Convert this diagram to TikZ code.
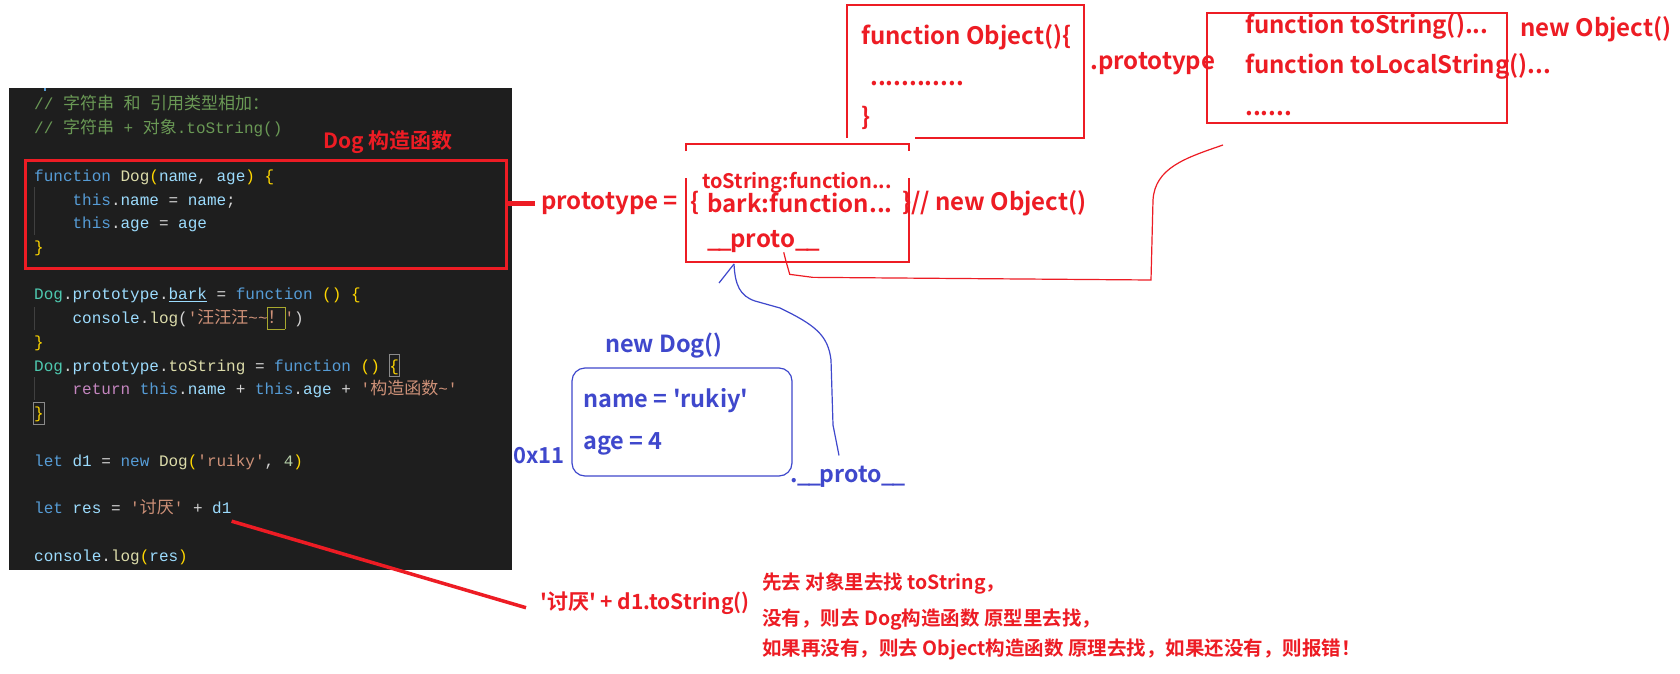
\documentclass[tikz,border=0pt]{standalone}
\usepackage{fontspec}
\usepackage{xcolor}
\usetikzlibrary{positioning,calc}
\newfontfamily\zhfont{Noto Sans CJK SC}[BoldFont={Noto Sans CJK SC Bold}]
\newfontfamily\codefont{Liberation Mono}
\definecolor{mr}{HTML}{ED1C24}
\definecolor{mb}{HTML}{3F48CC}
\definecolor{bg}{HTML}{1E1E1E}
\definecolor{cmt}{HTML}{6A9955}
\definecolor{kw}{HTML}{569CD6}
\definecolor{fn}{HTML}{DCDCAA}
\definecolor{vr}{HTML}{9CDCFE}
\definecolor{cl}{HTML}{4EC9B0}
\definecolor{sr}{HTML}{CE9178}
\definecolor{nm}{HTML}{B5CEA8}
\definecolor{rt}{HTML}{C586C0}
\definecolor{pn}{HTML}{D4D4D4}
\definecolor{br}{HTML}{FFD700}
\definecolor{gd}{HTML}{404040}
\definecolor{hl}{HTML}{A8A82E}
\definecolor{bm}{HTML}{8A8A8A}
\newcommand{\Zh}[1]{{\zhfont\fontsize{17}{17}\selectfont #1}}
\newcommand{\Kw}[1]{\textcolor{kw}{#1}}
\newcommand{\Fn}[1]{\textcolor{fn}{#1}}
\newcommand{\Vr}[1]{\textcolor{vr}{#1}}
\newcommand{\Cl}[1]{\textcolor{cl}{#1}}
\newcommand{\Sr}[1]{\textcolor{sr}{#1}}
\newcommand{\Nm}[1]{\textcolor{nm}{#1}}
\newcommand{\Rt}[1]{\textcolor{rt}{#1}}
\newcommand{\Br}[1]{\textcolor{br}{#1}}
\newcommand{\Cm}[1]{\textcolor{cmt}{#1}}
\newcommand{\sq}{\textquotesingle}
\newcommand{\us}{\_\kern-2pt}
\newcommand{\Hb}[2]{{\setlength{\fboxsep}{0pt}\setlength{\fboxrule}{0.8pt}\kern-0.8pt\fcolorbox{#1}{bg}{\rule[-5pt]{0pt}{21pt}#2}\kern-0.8pt}}
\tikzset{
  codeln/.style={anchor=base west, inner sep=0pt, text=pn, font=\codefont\fontsize{16}{16}\selectfont},
  ann/.style={anchor=base west, inner sep=0pt, text=mr, font=\zhfont\bfseries\fontsize{24}{24}\selectfont},
  annsm/.style={ann, font=\zhfont\bfseries\fontsize{20}{20}\selectfont},
  annb/.style={ann, text=mb, font=\zhfont\bfseries\fontsize{23.5}{23.5}\selectfont},
  notetxt/.style={ann, font=\zhfont\bfseries\fontsize{19.5}{19.5}\selectfont},
  redpen/.style={draw=mr, line width=1.3pt},
  bluepen/.style={draw=mb, line width=1.2pt},
}

\begin{document}
\begin{tikzpicture}[x=1pt,y=-1pt]
  \useasboundingbox (0,0) rectangle (1680,674);
  \fill[white] (0,0) rectangle (1680,674);
  % editor screenshot
  \fill[bg] (9,88) rectangle (512,570);
  \fill[kw] (43.5,88) rectangle (45.5,91);
  \foreach \a/\b in {187/235,307/330,377/400}
    \draw[gd, line width=1pt] (34,\a) -- (34,\b);
  \node[codeln] (c0) at (34,110) {\Cm{// \Zh{字符串} \Zh{和} \Zh{引用类型相加：}}};
  \node[codeln] (c1) at (34,133.7) {\Cm{// \Zh{字符串} + \Zh{对象}.toString()}};
  \node[codeln] (c3) at (34,181.2) {\Kw{function} \Fn{Dog}\Br{(}\Vr{name}, \Vr{age}\Br{)} \Br{\{}};
  \node[codeln] (c4) at (72.4,205) {\Kw{this}.\Vr{name} = \Vr{name};};
  \node[codeln] (c5) at (72.4,228.7) {\Kw{this}.\Vr{age} = \Vr{age}};
  \node[codeln] (c6) at (34,252.4) {\Br{\}}};
  \node[codeln] (c8) at (34,299.9) {\Cl{Dog}.\Vr{prototype}.\Vr{\underline{bark}} = \Kw{function} \Br{()} \Br{\{}};
  \node[codeln] (c9) at (72.4,323.7) {\Vr{console}.\Fn{log}(\Sr{\sq\Zh{汪汪汪}\textasciitilde\textasciitilde\Hb{hl}{\Zh{！}}\sq})};
  \node[codeln] (c10) at (34,347.4) {\Br{\}}};
  \node[codeln] (c11) at (34,371.1) {\Cl{Dog}.\Vr{prototype}.\Fn{toString} = \Kw{function} \Br{()} \Hb{bm}{\Br{\{}}};
  \node[codeln] (c12) at (72.4,394.9) {\Rt{return} \Kw{this}.\Vr{name} + \Kw{this}.\Vr{age} + \Sr{\sq\Zh{构造函数}\textasciitilde\sq}};
  \node[codeln] (c13) at (34,418.6) {\Hb{bm}{\Br{\}}}};
  \node[codeln] (c15) at (34,466.1) {\Kw{let} \Vr{d1} = \Kw{new} \Fn{Dog}\Br{(}\Sr{\sq ruiky\sq}, \Nm{4}\Br{)}};
  \node[codeln] (c17) at (34,513.6) {\Kw{let} \Vr{res} = \Sr{\sq\Zh{讨厌}\sq} + \Vr{d1}};
  \node[codeln] (c19) at (34,561.1) {\Vr{console}.\Fn{log}\Br{(}\Vr{res}\Br{)}};
  \node[draw=mr, line width=3pt, minimum width=481pt, minimum height=108pt, inner sep=0pt] (dogbox) at (266,214.5) {};
  \node[ann, font=\zhfont\bfseries\fontsize{21}{21}\selectfont] (dogttl) at (323,149) {Dog 构造函数};

  % prototype object
  \node[ann] (ptlbl) at (541,209) {prototype =};
  \draw[mr, line width=5pt] (dogbox.east |- ptlbl.west) -- ([xshift=-6pt]ptlbl.west);
  \node[ann] (lbr) at (690,210) {\{};
  \draw[redpen] (686,151) |- (909,144) -- (909,151);
  \draw[redpen] (686,178) |- (909,262) -- (909,178);
  \node[annsm] (tostr) at (702,188) {toString:function...};
  \node[ann] (bark) at (707,212) {bark:function...};
  \node[ann] (rbr) at (902,210) {\}// new Object()};
  \node[ann] (rproto) at (707,247) {\us\us proto\us\_};

  % Object constructor
  \draw[redpen] (915,138) -| (1084,5) -| (847,138);
  \node[ann] (objfn) at (861,45) {function Object()\{};
  \node[ann] (objdots) at (870,86) {............};
  \node[ann] (objrb) at (861,125) {\}};
  \node[ann] (dotproto) at (1090,70) {.prototype};

  % Object.prototype
  \node[draw=mr, line width=1.3pt, minimum width=300pt, minimum height=110pt, inner sep=0pt] (opbox) at (1357,68) {};
  \node[ann] (ots) at (1245,34) {function toString()...};
  \node[ann] (otls) at (1245,74) {function toLocalString()...};
  \node[ann] (odots) at (1245,116) {......};
  \node[ann] (newobj) at (1520,37) {new Object()};
  \coordinate (opend) at (1223,145);
  \draw[redpen, line width=1.2pt] ([xshift=20pt]rproto.south) -- ++(2,8) -- ++(4,14) -- ++(23,3)
    -- (1151,280) -- (1153,200) .. controls (1155,168) and (1185,158) .. (opend);

  % instance
  \node[annb] (newdog) at (605,352) {new Dog()};
  \node[draw=mb, line width=1.2pt, rounded corners=13pt, minimum width=220pt, minimum height=108pt, inner sep=0pt] (dogobj) at (682,422) {};
  \node[annb] (nm) at (583,407) {name = \sq rukiy\sq};
  \node[annb] (ag) at (583,449) {age = 4};
  \node[annb, font=\zhfont\bfseries\fontsize{22}{22}\selectfont] (addr) at (513,463) {0x11};
  \node[annb, font=\zhfont\bfseries\fontsize{23}{23}\selectfont] (bproto) at (790,482) {.\us\us proto\us\_};
  \coordinate (ptip) at (734,264);
  \draw[bluepen] ([xshift=-9pt,yshift=10pt]bproto.north) -- (833,425) -- (831,360)
    .. controls (828,335) and (815,325) .. (780,308) -- (755,301)
    .. controls (740,296) and (735,285) .. (ptip);
  \draw[bluepen] (ptip) -- ++(-15,19);

  % lookup
  \node[ann, font=\zhfont\bfseries\fontsize{21}{21}\selectfont] (call) at (540,609) {\sq 讨厌\sq{} + d1.toString()};
  \draw[mr, line width=3.5pt] ([yshift=-6pt]c17.south east) -- ([xshift=-14pt,yshift=-5pt]call.west);
  \node[notetxt] (n1) at (762,589) {先去 对象里去找 toString，};
  \node[notetxt] (n2) at (762,625) {没有，则去 Dog构造函数 原型里去找，};
  \node[notetxt] (n3) at (762,655) {如果再没有，则去 Object构造函数 原理去找，如果还没有，则报错！};
\end{tikzpicture}
\end{document}
